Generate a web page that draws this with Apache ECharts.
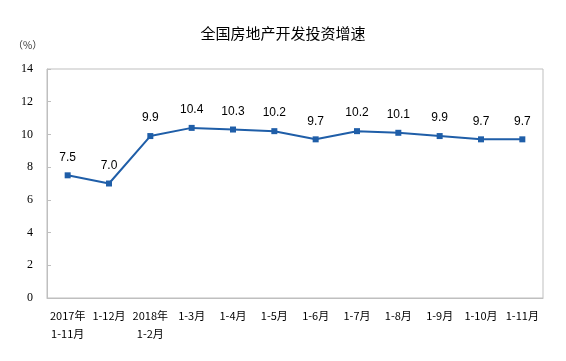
<!DOCTYPE html>
<html><head><meta charset="utf-8">
<script src="https://cdn.jsdelivr.net/npm/echarts@6/dist/echarts.min.js"></script>
<style>html,body{margin:0;padding:0;background:#fff}#c{width:566px;height:361px}</style>
</head><body><div id="c"></div>
<script>
const categories = ["2017年\n1-11月","1-12月","2018年\n1-2月","1-3月","1-4月","1-5月","1-6月","1-7月","1-8月","1-9月","1-10月","1-11月"];
const values = [7.5,7.0,9.9,10.4,10.3,10.2,9.7,10.2,10.1,9.9,9.7,9.7];
const yTicks = [0,2,4,6,8,10,12,14];
const chart = echarts.init(document.getElementById('c'));
chart.setOption({
  animation:false,
  backgroundColor:'#fff',
  title:{text:'全国房地产开发投资增速',left:'center',top:21,textStyle:{fontFamily:'Noto Sans CJK SC',fontSize:15,fontWeight:'normal',color:'#000'}},
  graphic:[{type:'text',left:13,top:40,style:{text:'（%）',fontFamily:'Noto Sans CJK SC',fontSize:10,fill:'#333'}}],
  grid:{left:47,right:23,top:69,bottom:63,show:true,borderColor:'#bfbfbf',borderWidth:1},
  xAxis:{type:'category',data:categories,boundaryGap:true,
    axisLine:{lineStyle:{color:'#bfbfbf'}},
    axisTick:{inside:true,length:5,lineStyle:{color:'#bfbfbf'}},
    axisLabel:{color:'#000',fontFamily:'Noto Sans CJK SC',fontSize:11,margin:9,lineHeight:18,interval:0}},
  yAxis:{type:'value',min:0,max:14,interval:2,
    axisLine:{show:true,lineStyle:{color:'#bfbfbf'}},
    axisTick:{show:true,inside:true,length:4,lineStyle:{color:'#bfbfbf'}},
    splitLine:{show:false},
    axisLabel:{color:'#000',fontFamily:'Liberation Serif',fontSize:12,margin:14,
      formatter:v=>yTicks.includes(v)?String(v):''}},
  series:[{type:'line',data:values,symbol:'rect',symbolSize:6,
    lineStyle:{color:'#1f5ea8',width:2},itemStyle:{color:'#1f5ea8'},
    label:{show:true,position:'top',distance:9,color:'#000',fontFamily:'Liberation Sans',fontSize:12,formatter:p=>p.value.toFixed(1)}}]
});
</script></body></html>
